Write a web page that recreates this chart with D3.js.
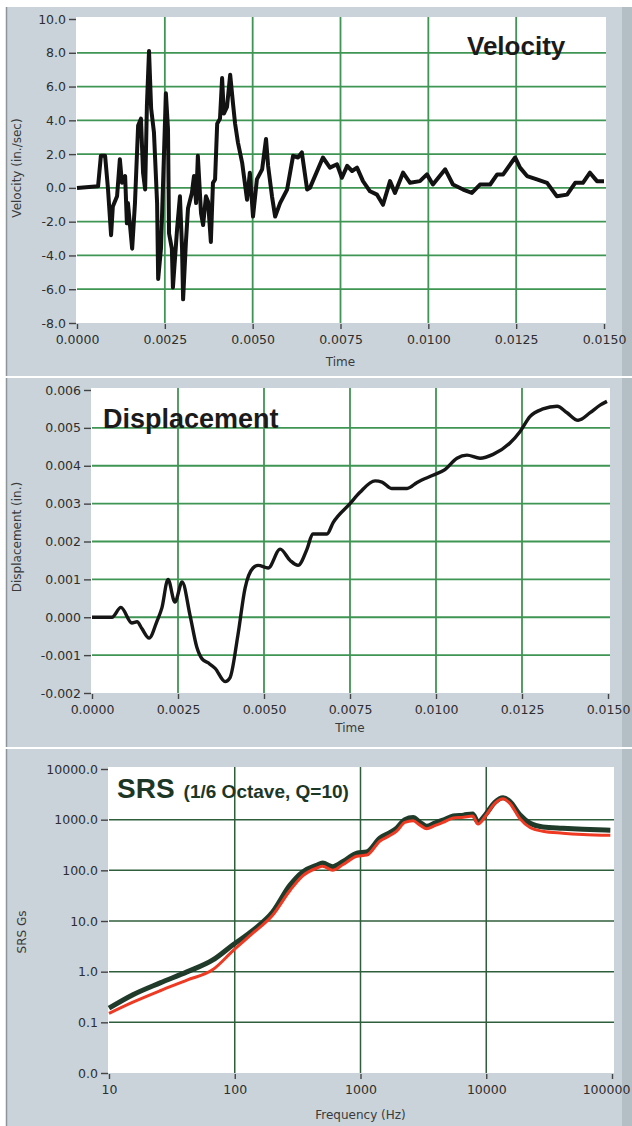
<!DOCTYPE html>
<html>
<head>
<meta charset="utf-8">
<script src="https://cdn.jsdelivr.net/npm/d3@7"></script>
<style>
body { margin: 0; background: #fff; }
text { font-family: "DejaVu Sans", sans-serif; }
</style>
</head>
<body>
<svg id="chart" width="632" height="1126"></svg>
<script>
// ---- velocity (in./sec) vs time (s)
const velTime = [0.00000, 0.00060, 0.00068, 0.00080, 0.00088, 0.00097, 0.00102, 0.00114, 0.00122, 0.00128,
  0.00137, 0.00142, 0.00145, 0.00157, 0.00165, 0.00174, 0.00182, 0.00188, 0.00194, 0.00199,
  0.00205, 0.00211, 0.00219, 0.00228, 0.00231, 0.00239, 0.00245, 0.00253, 0.00259, 0.00262,
  0.00270, 0.00273, 0.00285, 0.00293, 0.00299, 0.00302, 0.00310, 0.00316, 0.00327, 0.00333,
  0.00339, 0.00344, 0.00353, 0.00359, 0.00367, 0.00373, 0.00381, 0.00387, 0.00393, 0.00399,
  0.00407, 0.00413, 0.00418, 0.00427, 0.00436, 0.00444, 0.00450, 0.00458, 0.00470, 0.00484,
  0.00492, 0.00501, 0.00512, 0.00527, 0.00538, 0.00544, 0.00555, 0.00564, 0.00578, 0.00598,
  0.00615, 0.00629, 0.00640, 0.00655, 0.00663, 0.00700, 0.00720, 0.00740, 0.00754, 0.00769,
  0.00783, 0.00797, 0.00814, 0.00834, 0.00854, 0.00871, 0.00891, 0.00905, 0.00928, 0.00948,
  0.00976, 0.00996, 0.01013, 0.01048, 0.01070, 0.01099, 0.01124, 0.01147, 0.01176, 0.01196,
  0.01213, 0.01247, 0.01261, 0.01281, 0.01309, 0.01338, 0.01366, 0.01395, 0.01418, 0.01440,
  0.01460, 0.01480, 0.01500];
const velValue = [0.0, 0.1, 1.9, 1.9, 0.0, -2.8, -1.1, -0.5, 1.7, 0.3,
  0.7, -2.1, -0.9, -3.6, -0.9, 3.7, 4.1, 0.9, -0.1, 4.9,
  8.1, 4.7, 3.3, -0.9, -5.4, -3.6, 0.3, 5.6, 3.5, -2.7,
  -3.6, -5.9, -2.4, -0.5, -3.6, -6.6, -3.2, -1.2, -0.3, 0.7,
  -0.9, 1.9, -1.5, -2.2, -0.5, -0.8, -3.2, 0.3, 0.5, 3.8,
  4.1, 6.5, 4.4, 4.8, 6.7, 5.0, 3.8, 2.7, 1.5, -0.7,
  0.9, -1.7, 0.5, 1.1, 2.9, 1.3, -0.5, -1.7, -0.9, -0.1,
  1.9, 1.8, 2.1, -0.1, 0.0, 1.8, 1.2, 1.4, 0.6, 1.3,
  1.0, 1.2, 0.4, -0.2, -0.4, -1.0, 0.4, -0.3, 0.9, 0.3,
  0.4, 0.8, 0.2, 1.1, 0.2, -0.1, -0.3, 0.2, 0.2, 0.8,
  0.8, 1.8, 1.2, 0.7, 0.5, 0.3, -0.5, -0.4, 0.3, 0.3,
  0.9, 0.4, 0.4];

// ---- displacement (in.) vs time (s)
const dispTime = [0.00000, 0.00058, 0.00084, 0.00116, 0.00131, 0.00145, 0.00166, 0.00189, 0.00203, 0.00221,
  0.00241, 0.00262, 0.00285, 0.00305, 0.00320, 0.00337, 0.00358, 0.00387, 0.00401, 0.00424,
  0.00445, 0.00468, 0.00483, 0.00512, 0.00547, 0.00576, 0.00599, 0.00625, 0.00642, 0.00683,
  0.00701, 0.00750, 0.00779, 0.00823, 0.00843, 0.00872, 0.00916, 0.00945, 0.00991, 0.01026,
  0.01061, 0.01090, 0.01128, 0.01166, 0.01215, 0.01244, 0.01273, 0.01311, 0.01352, 0.01381,
  0.01413, 0.01448, 0.01477, 0.01497];
const dispValue = [0.0, 0.0, 0.00026, -0.00015, -0.00012, -0.0003, -0.00055, -0.0001, 0.00024, 0.00100,
  0.00040, 0.00093, 0.00005, -0.0008, -0.0011, -0.0012, -0.00135, -0.0017, -0.0016, -0.00048,
  0.00077, 0.0013, 0.00137, 0.0013, 0.0018, 0.0015, 0.00137, 0.0018, 0.0022, 0.0022,
  0.0025, 0.0030, 0.0033, 0.0036, 0.00357, 0.0034, 0.0034, 0.00356, 0.00375, 0.0039,
  0.0042, 0.00428, 0.0042, 0.0043, 0.0046, 0.0049, 0.0053, 0.0055, 0.00557, 0.0054,
  0.0052, 0.0054, 0.0056, 0.0057];

// ---- SRS (Gs) vs frequency (Hz)
const srsFreq = [10, 15.5, 25.5, 41.7, 67, 97, 140, 200, 275, 347,
  447, 500, 600, 727, 935, 1120, 1430, 1700, 1950, 2250,
  2620, 2970, 3360, 3900, 4530, 5470, 6590, 7790, 8600, 9800,
  11700, 13600, 15400, 18500, 22300, 28200, 40600, 58600, 97000];
const srsDark = [0.19, 0.35, 0.6, 0.99, 1.7, 3.4, 6.6, 15, 51, 93,
  125, 139, 118, 149, 218, 230, 433, 550, 690, 1000,
  1100, 890, 740, 860, 980, 1180, 1230, 1300, 900, 1230,
  2200, 2700, 2300, 1250, 850, 720, 680, 650, 620];
const srsRed = [0.15, 0.25, 0.42, 0.68, 1.1, 2.6, 5.8, 13, 40, 78,
  110, 120, 100, 130, 190, 200, 380, 480, 600, 880,
  950, 780, 660, 760, 880, 1080, 1120, 1180, 820, 1150,
  2100, 2600, 2100, 1050, 700, 590, 540, 510, 490];

// ---- ticks
const timeTicks = [0, 0.0025, 0.005, 0.0075, 0.01, 0.0125, 0.015];
const velTicks = [-8, -6, -4, -2, 0, 2, 4, 6, 8, 10];
const dispTicks = [-0.002, -0.001, 0, 0.001, 0.002, 0.003, 0.004, 0.005, 0.006];
const freqTicks = [10, 100, 1000, 10000, 100000];
const srsTicks = [0.01, 0.1, 1, 10, 100, 1000, 10000];

const svg = d3.select("#chart");

// panel frames
const frames = [[7, 376], [378, 747], [749, 1126]];
frames.forEach(([t, b]) => {
    svg.append("rect").attr("x", 6).attr("y", t).attr("width", 626).attr("height", b - t).attr("fill", "#c9d3d9");
    svg.append("rect").attr("x", 622).attr("y", t).attr("width", 10).attr("height", b - t).attr("fill", "#b4bfc5");
    svg.append("line").attr("x1", 6.5).attr("x2", 6.5).attr("y1", t).attr("y2", b)
        .attr("stroke", "#8e9599").attr("stroke-width", 1.5);
});

function drawPanel(o) {
    const [x0, x1] = o.x.range();
    const [yb, yt] = o.y.range();
    const g = svg.append("g");

    g.append("rect").attr("x", x0 - 1).attr("y", yt - 2)
        .attr("width", x1 - x0 + 3).attr("height", yb - yt + 2).attr("fill", "#fff");

    // grid
    g.selectAll(".hg").data(o.yTicks.slice(1, -1)).enter().append("line")
        .attr("x1", x0).attr("x2", x1 + 2)
        .attr("y1", d => o.y(d)).attr("y2", d => o.y(d))
        .attr("stroke", o.gridColor).attr("stroke-width", o.gridWidth);
    g.selectAll(".vg").data(o.xTicks.slice(1, -1)).enter().append("line")
        .attr("x1", d => o.x(d)).attr("x2", d => o.x(d))
        .attr("y1", yt - 2).attr("y2", yb)
        .attr("stroke", o.gridColor).attr("stroke-width", o.gridWidth);

    const ya = g.append("g").attr("transform", `translate(${x0 - 1},0)`)
        .call(d3.axisLeft(o.y).tickValues(o.yTicks).tickFormat(o.yFmt).tickSize(7).tickPadding(3));
    const xa = g.append("g").attr("transform", `translate(0,${yb + 1})`)
        .call(d3.axisBottom(o.x).tickValues(o.xTicks).tickFormat(o.xFmt).tickSize(5).tickPadding(6));
    [ya, xa].forEach(a => {
        a.select(".domain").remove();
        a.selectAll(".tick line").attr("stroke", "#444").attr("stroke-width", 1.4);
        a.selectAll(".tick text").attr("fill", "#2e2e2e").style("font-size", "12.5px")
            .style("font-family", "DejaVu Sans");
    });
    // keep the last x label inside the frame
    xa.selectAll(".tick text").filter((d, i, n) => i === n.length - 1).attr("dx", o.lastDx || 0);

    g.append("text").attr("transform", `translate(${o.yLabelPos[0]},${o.yLabelPos[1]}) rotate(-90)`)
        .attr("text-anchor", "middle").attr("fill", "#3a3a3a").style("font-size", "12px")
        .text(o.yLabel);
    g.append("text").attr("x", (x0 + x1) / 2).attr("y", o.xLabelY)
        .attr("text-anchor", "middle").attr("fill", "#3a3a3a").style("font-size", "12px")
        .text(o.xLabel);
    return g;
}

const fmt = n => d => d.toFixed(n);

// Velocity
const xV = d3.scaleLinear().domain([0, 0.015]).range([77, 604]);
const yV = d3.scaleLinear().domain([-8, 10]).range([323, 19]);
const gV = drawPanel({ x: xV, y: yV, xTicks: timeTicks, yTicks: velTicks, xFmt: fmt(4), yFmt: fmt(1),
    gridColor: "#3f9553", gridWidth: 1.8, yLabel: "Velocity (in./sec)", yLabelPos: [21, 168],
    xLabel: "Time", xLabelY: 366 });
gV.append("path").datum(d3.range(velTime.length))
    .attr("fill", "none").attr("stroke", "#121212").attr("stroke-width", 4)
    .attr("stroke-linejoin", "round")
    .attr("d", d3.line().x(i => xV(velTime[i])).y(i => yV(velValue[i])));
gV.append("text").attr("x", 467).attr("y", 55).attr("fill", "#1b1b1b")
    .style("font-family", "Liberation Sans, Arial, sans-serif").style("font-weight", "bold")
    .style("font-size", "26px").text("Velocity");

// Displacement
const xD = d3.scaleLinear().domain([0, 0.015]).range([92, 608]);
const yD = d3.scaleLinear().domain([-0.002, 0.006]).range([693, 390]);
const gD = drawPanel({ x: xD, y: yD, xTicks: timeTicks, yTicks: dispTicks, xFmt: fmt(4), yFmt: fmt(3),
    gridColor: "#3f9553", gridWidth: 1.8, yLabel: "Displacement (in.)", yLabelPos: [21, 537],
    xLabel: "Time", xLabelY: 732 });
gD.append("text").attr("x", 103).attr("y", 428).attr("fill", "#1b1b1b")
    .style("font-family", "Liberation Sans, Arial, sans-serif").style("font-weight", "bold")
    .style("font-size", "27px").text("Displacement");
gD.append("path").datum(d3.range(dispTime.length))
    .attr("fill", "none").attr("stroke", "#161616").attr("stroke-width", 3.4)
    .attr("stroke-linejoin", "round")
    .attr("d", d3.line().x(i => xD(dispTime[i])).y(i => yD(dispValue[i])).curve(d3.curveMonotoneX));

// SRS
const xS = d3.scaleLog().domain([10, 100000]).range([109, 612]);
const yS = d3.scaleLog().domain([0.01, 10000]).range([1073, 769]);
const gS = drawPanel({ x: xS, y: yS, xTicks: freqTicks, yTicks: srsTicks, xFmt: d3.format("d"), yFmt: fmt(1),
    gridColor: "#2f5e3c", gridWidth: 1.5, yLabel: "SRS Gs", yLabelPos: [26, 932],
    xLabel: "Frequency (Hz)", xLabelY: 1119, lastDx: -6 });
const srsTitle = gS.append("text").attr("x", 117).attr("y", 798).attr("fill", "#1d3727")
    .style("font-family", "Liberation Sans, Arial, sans-serif").style("font-weight", "bold");
srsTitle.append("tspan").style("font-size", "28px").text("SRS");
srsTitle.append("tspan").attr("dx", 9).style("font-size", "19px").text("(1/6 Octave, Q=10)");

gS.append("path").datum(d3.range(srsFreq.length))
    .attr("fill", "none").attr("stroke", "#213b2b").attr("stroke-width", 5)
    .attr("stroke-linejoin", "round")
    .attr("d", d3.line().x(i => xS(srsFreq[i])).y(i => yS(srsDark[i])).curve(d3.curveMonotoneX));
gS.append("path").datum(d3.range(srsFreq.length))
    .attr("fill", "none").attr("stroke", "#ee3a22").attr("stroke-width", 3)
    .attr("stroke-linejoin", "round")
    .attr("d", d3.line().x(i => xS(srsFreq[i])).y(i => yS(srsRed[i])).curve(d3.curveMonotoneX));
</script>
</body>
</html>
